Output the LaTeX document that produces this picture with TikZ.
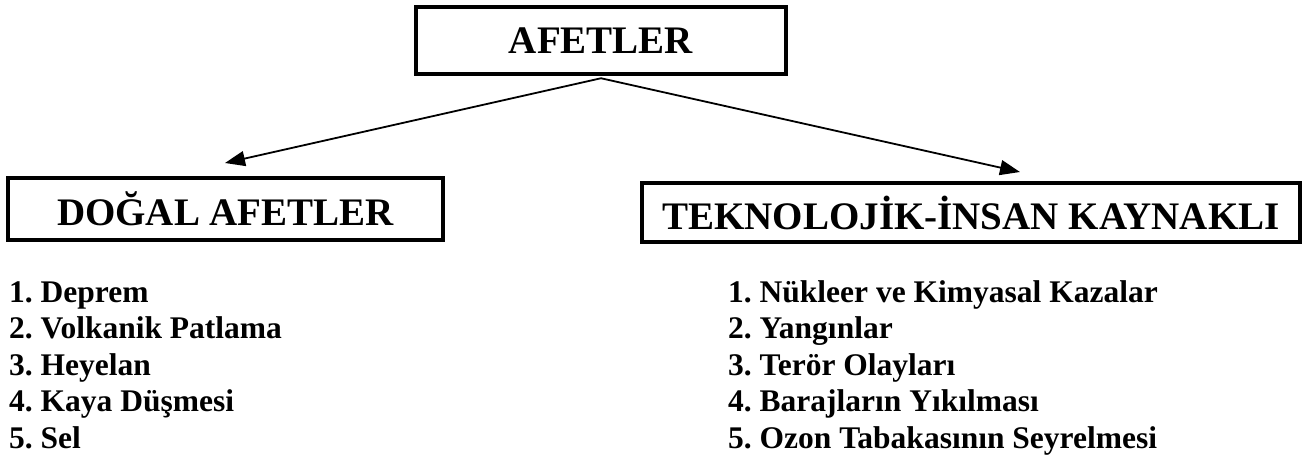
\documentclass[tikz,border=0pt]{standalone}
\usepackage{fontspec}
\setmainfont{Liberation Serif}
\usetikzlibrary{arrows.meta}
\frenchspacing
\begin{document}
\begin{tikzpicture}
[
    x=1pt, y=-1pt,
    box/.style={draw, line width=4.5pt, inner sep=0pt, font=\bfseries\fontsize{39}{41}\selectfont},
    arr/.style={line width=1.8pt, -{Triangle[length=20pt,width=15pt]}},
    items/.style={anchor=base west, align=left, inner sep=0pt, font=\bfseries\fontsize{31.5}{36.5}\selectfont},
]
\useasboundingbox (0,0) rectangle (1315,456);
\node[box, minimum width=370pt, minimum height=67pt] (afet) at (601,40.5) {AFETLER};
\node[box, minimum width=435pt, minimum height=62pt] (dogal) at (225.5,209) {DOĞAL AFETLER};
\node[box, minimum width=658pt, minimum height=59pt] (tekno) at (971,212.5) {TEKNOLOJİK-İNSAN KAYNAKLI};
\coordinate (dtip) at (225,163);
\coordinate (ttip) at (1020,172);
\draw[arr] ([yshift=-2pt]afet.south) -- (dtip);
\draw[arr] ([yshift=-2pt]afet.south) -- (ttip);
\node[items] (dlist) at (9,448) {1. Deprem\\ 2. Volkanik Patlama\\ 3. Heyelan\\ 4. Kaya Düşmesi\\ 5. Sel};
\node[items] (tlist) at (728,448) {1. Nükleer ve Kimyasal Kazalar\\ 2. Yangınlar\\ 3. Terör Olayları\\ 4. Barajların Yıkılması\\ 5. Ozon Tabakasının Seyrelmesi};
\end{tikzpicture}
\end{document}
